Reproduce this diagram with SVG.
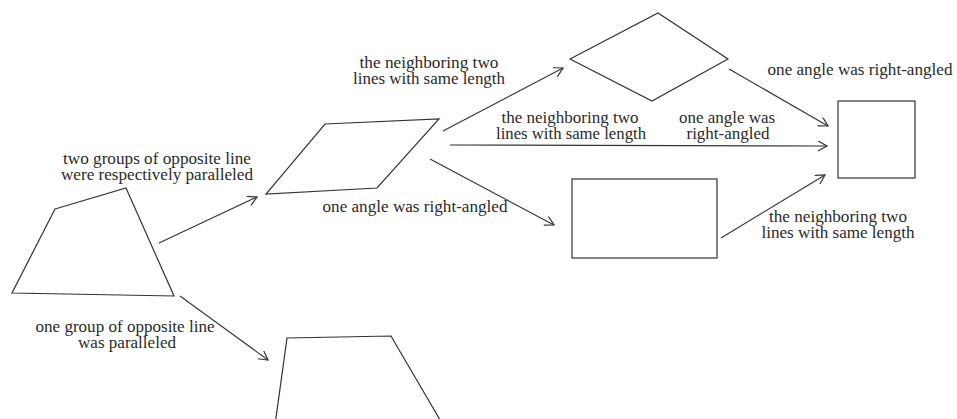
<svg xmlns="http://www.w3.org/2000/svg" width="957" height="419" viewBox="0 0 957 419">
<defs>
<style>
.s{fill:none;stroke:#333;stroke-width:1.2}
.c{fill:none;stroke:#333;stroke-width:1.1}
.t{font-family:"Liberation Serif","Times New Roman",serif;font-size:16px;fill:#2a2a2a;text-anchor:middle}
</style>
<marker id="ah" markerWidth="14" markerHeight="14" refX="10" refY="5" orient="auto" markerUnits="userSpaceOnUse">
<path d="M1,0 L10,5 L1,10" fill="none" stroke="#333" stroke-width="1.2"/>
</marker>
</defs>
<rect width="957" height="419" fill="#fff"/>
<g id="quad"><polygon class="s" points="55,209 126,188 174,296 12,293"/></g>
<g id="parallelogram"><polygon class="s" points="325,124 439,119 377,188 266,194"/></g>
<g id="rhombus"><polygon class="s" points="570,59 658,13 728,59 652,101"/></g>
<g id="square"><rect class="s" x="838" y="101" width="77" height="77"/></g>
<g id="rectangle"><rect class="s" x="572" y="179" width="145" height="79"/></g>
<g id="trapezoid"><polyline class="s" points="275,425 287,338 391,336 443,425"/></g>
<g id="connectors">
<line class="c" x1="159" y1="243" x2="257" y2="197" marker-end="url(#ah)"/>
<line class="c" x1="180" y1="296" x2="268" y2="360" marker-end="url(#ah)"/>
<line class="c" x1="443" y1="131" x2="563" y2="68" marker-end="url(#ah)"/>
<line class="c" x1="450" y1="145" x2="827" y2="146" marker-end="url(#ah)"/>
<line class="c" x1="430" y1="159" x2="554" y2="225" marker-end="url(#ah)"/>
<line class="c" x1="729" y1="69" x2="828" y2="126" marker-end="url(#ah)"/>
<line class="c" x1="721" y1="238" x2="825" y2="175" marker-end="url(#ah)"/>
</g>
<g id="labels">
<text class="t" x="429" y="68" textLength="139" lengthAdjust="spacingAndGlyphs">the neighboring two</text>
<text class="t" x="429" y="84" textLength="152" lengthAdjust="spacingAndGlyphs">lines with same length</text>
<text class="t" x="157" y="164" textLength="188" lengthAdjust="spacingAndGlyphs">two groups of opposite line</text>
<text class="t" x="157" y="180" textLength="192" lengthAdjust="spacingAndGlyphs">were respectively paralleled</text>
<text class="t" x="860" y="75" textLength="185" lengthAdjust="spacingAndGlyphs">one angle was right-angled</text>
<text class="t" x="570" y="123" textLength="137" lengthAdjust="spacingAndGlyphs">the neighboring two</text>
<text class="t" x="571" y="139" textLength="150" lengthAdjust="spacingAndGlyphs">lines with same length</text>
<text class="t" x="727" y="123" textLength="96" lengthAdjust="spacingAndGlyphs">one angle was</text>
<text class="t" x="728" y="139" textLength="83" lengthAdjust="spacingAndGlyphs">right-angled</text>
<text class="t" x="415" y="212" textLength="185" lengthAdjust="spacingAndGlyphs">one angle was right-angled</text>
<text class="t" x="838" y="222" textLength="138" lengthAdjust="spacingAndGlyphs">the neighboring two</text>
<text class="t" x="838" y="238" textLength="153" lengthAdjust="spacingAndGlyphs">lines with same length</text>
<text class="t" x="125" y="332" textLength="179" lengthAdjust="spacingAndGlyphs">one group of opposite line</text>
<text class="t" x="127" y="348" textLength="98" lengthAdjust="spacingAndGlyphs">was paralleled</text>
</g>
</svg>
